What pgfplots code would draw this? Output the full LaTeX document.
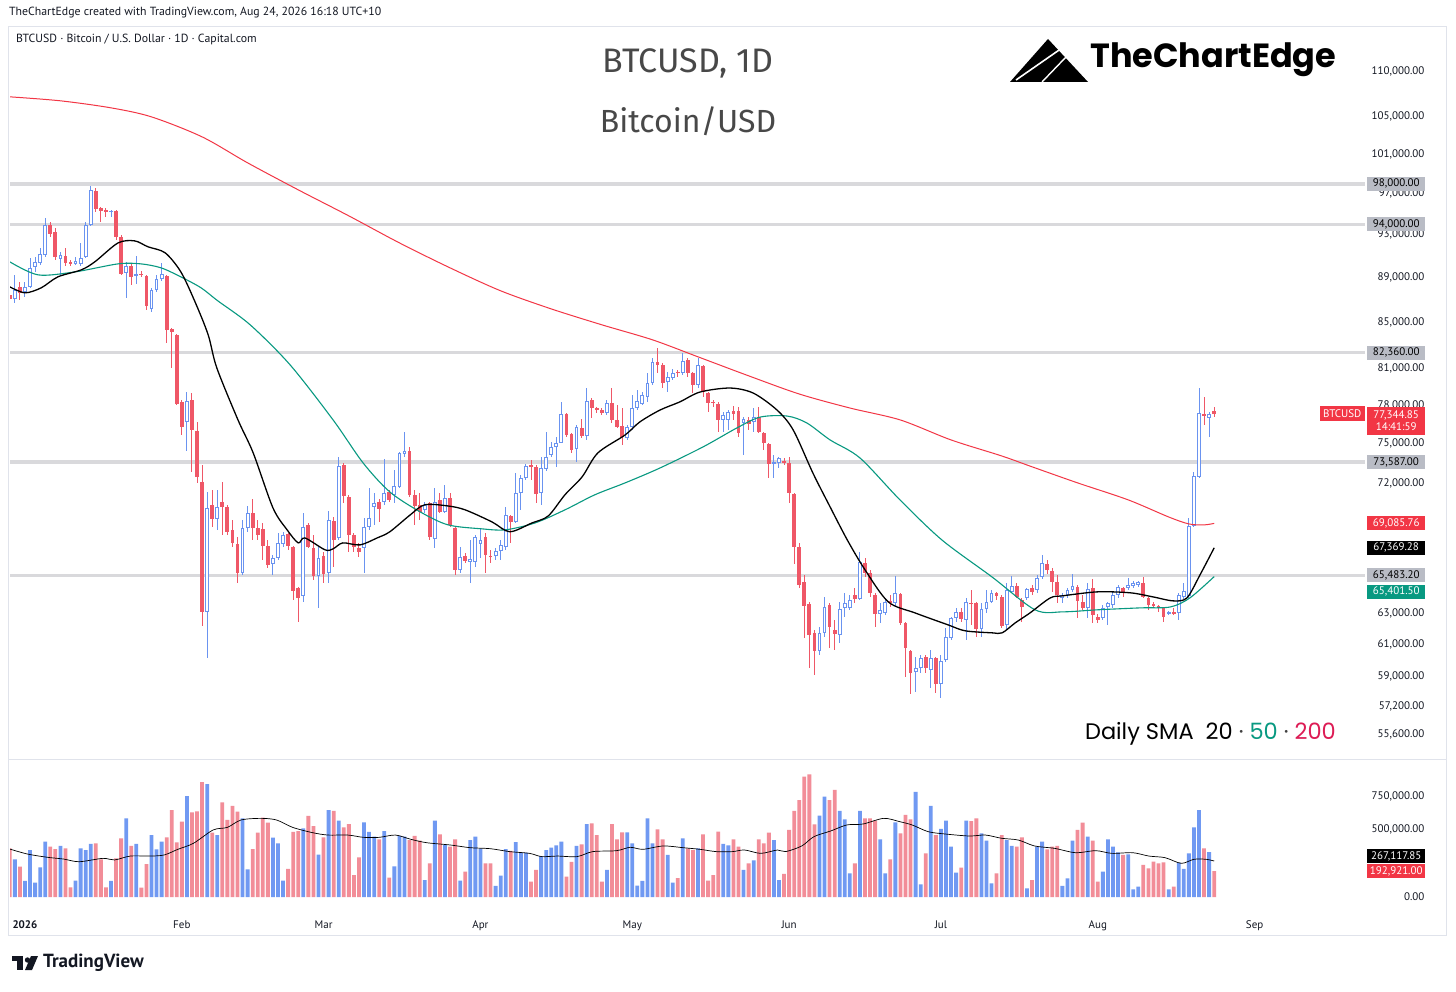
\documentclass[border=0pt]{standalone}
\usepackage{fontspec}
\setmainfont{PT Sans}
\newfontfamily\titlefont{Fira Sans}
\newfontfamily\poppins{Poppins}
\usepackage{pgfplots}
\pgfplotsset{compat=1.18}
\usepackage{pgfplotstable}

\definecolor{upc}{HTML}{6A93F0}
\definecolor{dnc}{HTML}{EF5767}
\definecolor{vup}{HTML}{7099F2}
\definecolor{vdn}{HTML}{F28D98}
\definecolor{tvred}{HTML}{F23645}
\definecolor{tvteal}{HTML}{089981}
\definecolor{smared}{HTML}{DD1C55}
\definecolor{lvl}{HTML}{D9D9DC}
\definecolor{lblgray}{HTML}{B9BCC5}
\definecolor{framec}{HTML}{E0E3EB}
\definecolor{txt}{HTML}{131722}
\definecolor{titlec}{HTML}{484848}

\newcommand{\tfont}{\fontsize{11}{13}\selectfont}

% up candles: day o h l c volume
\pgfplotstableread{
d o h l c v
-2 87055 89230 86700 87865 280000
0 87685 88590 87235 88140 119000
1 88140 90810 88050 89880 349000
2 89970 90900 89510 90440 106000
3 90340 91750 90160 91180 220000
4 91090 94630 90900 93950 411000
7 90720 91370 89230 91090 379000
10 90250 90900 90160 90530 121000
11 90250 92220 90060 90810 361000
12 90900 94240 90810 93950 349000
13 93950 97800 93850 97400 394000
17 95220 95410 94730 95310 119000
20 89420 90440 87150 90060 584000
22 89140 91000 88410 89330 394000
25 86160 88050 85900 87865 460000
26 87865 89230 87685 88870 354000
27 88870 90340 88680 89330 411000
32 76700 79100 74440 78380 750000
36 63070 71370 60150 70200 839000
38 69410 71510 68630 70270 460000
43 65650 69340 65520 68770 584000
44 68770 70340 68490 69840 205000
49 66270 66880 65520 66680 441000
50 66680 68420 66540 67710 399000
51 67640 68490 67430 68280 121000
55 64120 69840 63720 68840 510000
58 65450 67430 63330 66680 314000
60 65650 69980 64980 69340 646000
62 68060 73980 67920 73300 567000
67 67370 69480 65650 68840 554000
68 68840 71660 68630 69480 483000
69 70270 71290 68980 70560 448000
71 70630 73830 70420 71290 490000
73 71150 73000 70560 71810 228000
74 71730 74370 71660 74290 453000
75 74210 75910 73980 74440 448000
79 70050 70630 69840 70420 126000
81 67990 71660 67370 70630 567000
83 69910 71880 69840 70920 386000
86 65860 67430 65650 66740 121000
88 66400 67920 64980 66610 423000
89 66400 68280 66060 68130 448000
90 67640 68700 66680 67920 359000
93 66810 67370 66540 67160 82000
94 67160 67920 66540 67570 158000
95 67430 70270 67230 69690 356000
97 69190 72770 69120 71290 408000
98 71290 72630 70050 72400 329000
99 72400 73450 72250 73300 329000
102 71290 73980 70420 73150 304000
103 73080 75910 72920 73980 349000
104 74140 75140 73980 74750 366000
105 74750 75520 73230 75060 384000
106 75060 78300 75060 77330 411000
109 74600 76460 73600 76300 379000
111 75600 79430 75290 78380 542000
115 77410 78460 77250 78220 201000
119 75450 76460 75290 76300 480000
120 76300 78860 76070 77810 399000
121 77810 79270 77650 78380 84000
122 78140 79100 78060 78860 119000
123 78700 80670 78300 79840 584000
124 79840 81920 79680 81590 399000
127 79920 80750 79100 80340 312000
128 80250 81000 80090 80670 106000
130 80670 82350 80500 81670 436000
133 79680 81920 79430 81330 361000
138 76860 77490 75910 77250 394000
139 76860 77650 76070 77490 384000
142 76620 77090 74140 76940 201000
144 76700 77810 75910 77090 272000
148 73450 74140 72400 73600 423000
149 73530 73980 73150 73910 126000
157 60590 62100 60340 61720 604000
158 61720 64050 61470 63390 745000
161 61590 63720 61090 63260 639000
162 63330 64320 62750 63660 577000
163 63330 64180 63200 63850 176000
165 63920 67090 63850 66400 639000
169 62940 63660 62360 63200 428000
170 63000 63980 62870 63720 176000
172 63660 65450 63390 64320 554000
176 59290 60210 58080 59530 780000
177 59530 60340 59230 60150 94000
179 59410 60650 58320 60150 676000
181 58560 60340 57720 59970 505000
182 60030 62040 59900 61470 567000
183 61400 62750 61280 62680 374000
184 62680 63330 62420 63070 181000
186 62550 63980 61280 63720 567000
189 61970 63660 61470 63260 473000
190 63260 64510 63000 63720 418000
191 63720 64510 63660 64320 101000
194 62230 64980 61910 64510 423000
195 64380 65450 64320 64780 379000
198 63980 64650 63850 64580 64000
200 64510 65520 64320 65320 374000
201 65380 66880 65250 66330 411000
205 63980 64320 63660 64180 82000
206 64180 64650 63980 64510 139000
207 64510 65590 64380 64780 418000
210 63330 64980 62680 64580 448000
213 62680 63530 62550 63330 188000
214 63390 63720 62230 63660 428000
215 63530 64380 63330 64180 374000
216 64180 64850 63980 64710 332000
218 64650 65320 64510 64850 317000
219 64780 65110 64650 64980 57000
220 64850 65110 64710 65050 77000
226 62940 63130 62870 63070 57000
228 63000 64320 62550 64180 255000
229 64050 64980 63920 64450 208000
230 64120 69480 63980 68910 324000
231 68910 72850 68840 72550 517000
232 72480 79430 72400 77410 646000
234 77020 77490 75520 77330 334000
}\upT

% down candles: day o h l c volume
\pgfplotstableread{
d o h l c v
-3 87415 90340 86700 87055 361000
-1 88140 88590 86965 87595 225000
5 93950 94240 92800 93080 374000
6 93270 93660 90620 90900 356000
8 91000 91750 90060 90340 361000
9 90440 90620 90060 90250 72000
14 97300 97600 95220 95510 399000
15 95610 95710 94240 95310 280000
16 95410 95610 94730 95220 72000
18 95310 95410 92510 92800 287000
19 92800 92990 89230 89330 436000
21 90060 90340 88320 89050 379000
23 89330 89600 89050 89230 69000
24 89140 89230 86070 86430 245000
28 89140 89230 83200 84320 443000
29 84410 84490 81090 84150 646000
30 83890 83980 78060 78140 406000
31 78300 78460 75680 76300 559000
33 78460 79020 72850 76070 629000
34 75990 76700 72030 72480 636000
35 72100 73380 62170 63070 854000
37 70420 71510 68840 69410 478000
39 70630 72100 68280 70270 703000
40 70270 70420 68280 68490 572000
41 68630 69340 67430 67710 676000
42 67640 68130 64980 65650 634000
45 69840 70850 67920 68770 356000
46 68770 69340 67920 68280 478000
47 68700 69120 66540 67500 589000
48 67500 67920 65990 66200 552000
52 68350 68420 67230 67500 208000
53 67430 67500 63850 64450 483000
54 64650 64710 62420 63980 490000
56 68980 69120 67370 67430 602000
57 67370 68280 65180 65450 527000
59 66810 67090 64980 65590 443000
61 69260 69550 66060 67920 639000
63 73380 73530 70560 71070 517000
64 71000 71150 67090 68280 542000
65 68280 68420 67090 67430 163000
66 67370 67710 66740 67090 295000
70 70630 70850 69190 70130 428000
72 71370 71510 70630 70780 144000
76 74440 74750 71000 71150 423000
77 71150 71510 68980 70340 453000
78 70420 71290 69340 69910 418000
80 70560 70630 67920 68130 250000
82 70780 71290 69840 69910 465000
84 70920 71290 68840 68980 374000
85 68770 68840 65520 65860 428000
87 66810 67020 66330 66470 188000
91 68130 68420 65650 66880 250000
92 66810 67230 66330 66740 250000
96 69620 69690 67710 69190 342000
100 73380 73750 72250 73230 114000
101 73230 73380 70560 71220 201000
107 77330 77410 75520 75680 151000
108 75760 75830 74290 74520 260000
110 76230 76940 75450 75600 391000
112 78460 78620 77020 77810 547000
113 77810 77890 77410 77650 460000
114 77650 77810 77250 77410 114000
116 78220 79430 76620 76860 542000
117 76860 78060 76230 76300 428000
118 76380 77810 74900 75520 480000
125 81590 82770 80670 81330 503000
126 81330 81500 79430 79840 428000
129 80750 80920 80340 80670 141000
131 81750 81920 80340 80670 361000
132 80670 80750 79020 79680 349000
134 81250 81330 78700 79100 465000
135 79020 79100 77490 78220 121000
136 78300 78460 77890 78220 163000
137 78140 78300 75910 76860 485000
140 77570 77970 76860 77330 428000
141 77570 77890 75520 75830 374000
143 76860 77090 76070 76540 250000
145 77090 77890 75830 75910 428000
146 75830 75910 74520 75060 399000
147 74980 75060 72400 73450 478000
150 73680 73910 73380 73530 171000
151 73530 73980 70560 71290 498000
152 71220 71290 66270 67430 639000
153 67430 67710 64650 64850 720000
154 65050 65520 61400 63460 894000
155 63590 63720 59530 61590 911000
156 61720 61910 59110 60590 540000
159 63530 63660 60770 62100 720000
160 61910 62550 60650 61660 795000
164 64180 64650 63660 63920 250000
166 66330 66680 65380 65650 584000
167 65650 65860 64050 64320 584000
168 64180 64320 62100 62940 567000
171 63790 64180 63390 63660 280000
173 64250 64320 62230 62360 473000
174 62360 62420 58990 60770 609000
175 60590 60650 57960 59230 577000
178 60210 60340 59230 59530 324000
180 60150 60210 58020 58560 460000
185 63070 63330 62420 62620 218000
187 63660 64510 62230 63590 564000
188 63660 63720 61470 61970 584000
192 64320 64380 63850 64120 176000
193 64050 64180 62040 62170 460000
196 64780 64980 63980 64050 374000
197 63850 63980 62420 63390 443000
199 64650 64850 64180 64380 126000
202 66270 66540 65590 65860 354000
203 65790 65990 64380 65050 374000
204 65050 65520 63660 64180 379000
208 64710 64850 62680 63790 498000
209 63720 64180 63200 63330 552000
211 64650 65250 62360 62870 418000
212 62750 62940 62360 62550 114000
217 64650 64710 64050 64320 312000
221 64980 65380 63980 64050 238000
222 63980 64050 63200 63530 213000
223 63590 63720 63390 63460 262000
224 63460 63530 63070 63330 250000
225 63330 63330 62420 62750 257000
227 63070 63330 62870 62940 77000
233 77330 78700 76460 77170 361000
235 77570 77890 77090 77345 193000
}\dnT

\pgfplotstableread{
d p
-3 107190
7 106750
17 105980
25 105000
35 102860
44 100140
54 97400
64 94820
74 92220
84 89880
94 87780
104 86160
114 84760
124 83460
133 82010
143 80420
153 78940
163 77810
173 76860
183 75290
193 74060
199 73230
208 72030
218 70780
226 69550
230 69050
233 68980
235 69086
}\smaC

\pgfplotstableread{
d p
-3 90440
2.6 89230
9.9 89510
18.4 90250
22.9 90250
26.9 89880
30.8 89050
34.8 88050
38.1 86880
44.5 84760
52.4 81330
60.9 76860
66.8 73530
72.1 71370
78.1 69910
83.6 68980
90.3 68700
94.9 68630
100.8 69120
106.7 70050
112.6 71150
118.6 72030
125.5 73150
134 74750
140.7 76230
145.3 77090
150.6 77170
154.5 76620
159.1 75290
165 73910
172.9 70780
181.2 67920
191.1 65380
199.6 63200
205.1 63070
211.9 63200
220.4 63330
226.3 63390
230.2 63980
235 65401
}\smaB

\pgfplotstableread{
d p
-3 88140
0 87600
3.2 88050
6.5 89050
11.1 89690
13.8 90440
18.4 92220
21.7 92410
24.3 91850
27.7 91280
30.8 89510
33.6 86790
36.2 83890
37.9 81090
42.1 76860
45.1 74290
49 70200
51.8 68630
54 67710
55.3 68060
59.3 67230
60.9 67300
62.8 67710
66.2 67570
69.6 68060
72.1 68490
76.1 69690
79 70420
83.6 70340
87 70050
92.3 69190
95.8 68490
100.2 69120
103.4 69620
106.7 71150
110.1 72480
113.2 74290
118.6 75680
121.5 76700
125.5 77650
129.4 78300
133.4 79100
139.3 79430
143.9 79020
148.6 77650
151.8 76070
155.7 72770
159.1 70270
162.5 67920
166 65860
170.6 63720
175.9 63000
182.4 62230
185.8 61850
191.1 61720
193.1 61720
195.7 62360
198.6 63000
202.6 63980
205.1 64120
211.9 64380
218.4 64320
222.9 64050
226.9 63790
229.6 63980
232.2 65520
235 67369
}\smaA

\pgfplotstableread{
d v
-3 356000
0.5 319000
4.4 295000
7.6 282000
10.7 262000
15.4 287000
17.7 275000
20.8 304000
24.7 304000
27.5 312000
30.2 354000
33.3 399000
37.2 498000
40 517000
42.7 572000
46.6 584000
49.7 572000
52.9 517000
56.8 478000
59.9 460000
63.8 460000
66.9 443000
70 443000
73.2 460000
76.3 428000
79.4 403000
84.1 386000
88 366000
91.9 359000
95.8 337000
99.7 324000
102.1 300000
105.2 304000
109.1 300000
112.2 337000
116.9 344000
119.6 369000
122.1 354000
126.1 379000
130.1 366000
133.4 354000
136.6 337000
139.8 337000
142.2 349000
145.4 324000
148.7 349000
150.3 337000
153.5 379000
155.9 448000
159.2 490000
162.4 535000
165.6 542000
169.7 584000
172.9 559000
175.3 535000
178.5 485000
181.8 468000
186.6 453000
189.8 460000
193 436000
196.3 423000
199.5 379000
203.5 361000
207.6 329000
211.6 344000
214.8 324000
218.9 329000
222.1 304000
225.3 292000
228.5 250000
231 280000
233.4 280000
235 267118
}\vma

\tikzset{lbl/.style={anchor=west, minimum width=58pt, minimum height=14pt, inner sep=0pt, font=\tfont, xshift=2pt}}

\pgfplotsset{
  base/.style={
    scale only axis, width=1355pt, xmin=-2.96, xmax=264.8,
    axis line style={draw=none}, major tick length=0pt,
    clip mode=individual,
    yticklabel pos=right,
    yticklabel style={font=\tfont, text=txt, anchor=east, xshift=63pt},
  },
  nomark/.style={forget plot, only marks, mark=*, mark size=0pt,
    mark options={draw=none, fill=none, draw opacity=0, fill opacity=0}},
  wick/.style={nomark,
    error bars/y dir=both, error bars/y explicit, error bars/error mark=none,
    error bars/error bar style={line width=1pt, #1}},
  body/.style={nomark,
    error bars/y dir=both, error bars/y explicit, error bars/error mark=none,
    error bars/error bar style={line width=3.8pt, #1}},
}

\begin{document}
\begin{tikzpicture}
\fill[white] (0pt,0pt) rectangle (1456pt,991pt);

% price pane
\begin{axis}[base,
  at={(10pt,234pt)}, anchor=south west, height=730pt,
  ymode=log, ymin=54320, ymax=115200,
  xtick=\empty,
  ytick={110000,105000,101000,97000,93000,89000,85000,81000,78000,75000,72000,63000,61000,59000,57200,55600},
  yticklabels={{110,000.00},{105,000.00},{101,000.00},{97,000.00},{93,000.00},{89,000.00},{85,000.00},{81,000.00},{78,000.00},{75,000.00},{72,000.00},{63,000.00},{61,000.00},{59,000.00},{57,200.00},{55,600.00}},
]
% levels
\addplot[lvl, line width=3.5pt, forget plot] coordinates {(-3,98000) (264.8,98000)};
\addplot[lvl, line width=3.5pt, forget plot] coordinates {(-3,94000) (264.8,94000)};
\addplot[lvl, line width=3.5pt, forget plot] coordinates {(-3,82360) (264.8,82360)};
\addplot[lvl, line width=3.5pt, forget plot] coordinates {(-3,73587) (264.8,73587)};
\addplot[lvl, line width=3.5pt, forget plot] coordinates {(-3,65483) (264.8,65483)};

% wicks
\addplot[wick=dnc] table[x=d, y expr={(\thisrow{h}+\thisrow{l})/2},
  y error plus expr={(\thisrow{h}-\thisrow{l})/2}, y error minus expr={(\thisrow{h}-\thisrow{l})/2}] {\dnT};
\addplot[wick=upc] table[x=d, y expr={(\thisrow{h}+\thisrow{l})/2},
  y error plus expr={(\thisrow{h}-\thisrow{l})/2}, y error minus expr={(\thisrow{h}-\thisrow{l})/2}] {\upT};
% bodies
\addplot[body=dnc] table[x=d, y expr={(\thisrow{o}+\thisrow{c})/2},
  y error plus expr={max((\thisrow{o}-\thisrow{c})/2, 0.00055*\thisrow{o})},
  y error minus expr={max((\thisrow{o}-\thisrow{c})/2, 0.00055*\thisrow{o})}] {\dnT};
\addplot[body=upc] table[x=d, y expr={(\thisrow{o}+\thisrow{c})/2},
  y error plus expr={max((\thisrow{c}-\thisrow{o})/2, 0.00055*\thisrow{c})},
  y error minus expr={max((\thisrow{c}-\thisrow{o})/2, 0.00055*\thisrow{c})}] {\upT};
\addplot[nomark,
    error bars/y dir=both, error bars/y explicit, error bars/error mark=none,
    error bars/error bar style={line width=1.8pt, white}]
  table[x=d, y expr={(\thisrow{o}+\thisrow{c})/2},
  y error plus expr={max((\thisrow{c}-\thisrow{o})/2-0.0011*\thisrow{c}, 0)},
  y error minus expr={max((\thisrow{c}-\thisrow{o})/2-0.0011*\thisrow{c}, 0)}] {\upT};

% moving averages
\addplot[tvred, line width=1pt, smooth, forget plot] table[x=d, y=p] {\smaC};
\addplot[tvteal, line width=1.1pt, smooth, forget plot] table[x=d, y=p] {\smaB};
\addplot[black, line width=1.3pt, smooth, forget plot] table[x=d, y=p] {\smaA};

% right scale labels
\node[lbl, fill=lblgray, text=black] at (axis cs:264.8,98000) {98,000.00};
\node[lbl, fill=lblgray, text=black] at (axis cs:264.8,94000) {94,000.00};
\node[lbl, fill=lblgray, text=black] at (axis cs:264.8,82360) {82,360.00};
\node[lbl, fill=lblgray, text=black] at (axis cs:264.8,73587) {73,587.00};
\node[lbl, fill=tvred, text=white] at (axis cs:264.8,69086) {69,085.76};
\node[lbl, fill=black, text=white] at (axis cs:264.8,67369) {67,369.28};
\node[lbl, fill=lblgray, text=black] at (axis cs:264.8,65483) {65,483.20};
\node[lbl, fill=tvteal, text=white] at (axis cs:264.8,64380) {65,401.50};
\node[anchor=east, fill=tvred, text=white, minimum width=45pt, minimum height=15pt, inner sep=0pt, font=\tfont] at (axis cs:264.8,77345) {BTCUSD};
\node[anchor=north west, fill=tvred, text=white, minimum width=58pt, minimum height=28pt, inner sep=0pt, font=\tfont, align=center, xshift=2pt, yshift=7.5pt] at (axis cs:264.8,77345) {77,344.85\\[-1pt]14:41:59};
\end{axis}

% volume pane
\begin{axis}[base,
  at={(10pt,94pt)}, anchor=south west, height=138pt,
  ymin=0, ymax=1024800,
  scaled y ticks=false,
  xtick={0,31,59,90,120,151,181,212,243},
  xticklabels={\textbf{2026},Feb,Mar,Apr,May,Jun,Jul,Aug,Sep},
  xticklabel style={font=\tfont, text=txt, yshift=-20pt},
  ytick={0,500000,750000},
  yticklabels={0.00,{500,000.00},{750,000.00}},
]
\addplot[ybar, bar width=3.8pt, bar shift=0pt, fill=vup, draw=none, forget plot] table[x=d, y=v] {\upT};
\addplot[ybar, bar width=3.8pt, bar shift=0pt, fill=vdn, draw=none, forget plot] table[x=d, y=v] {\dnT};
\addplot[black, line width=0.7pt, smooth, forget plot] table[x=d, y=v] {\vma};
\node[lbl, fill=black, text=white] at (axis cs:264.8,304500) {267,117.85};
\node[lbl, fill=tvred, text=white] at (axis cs:264.8,193100) {192,921.00};
\end{axis}

% frame
\draw[framec, line width=0.8pt] (8pt,56pt) rectangle (1446pt,965pt);
\draw[framec, line width=0.8pt] (8pt,232pt) -- (1446pt,232pt);

% header texts
\node[anchor=west, font=\fontsize{11.8}{14}\selectfont, text=txt, inner sep=0pt] at (9pt,978pt) {TheChartEdge created with TradingView.com, Aug 24, 2026 16:18 UTC+10};
\node[anchor=west, font=\fontsize{11.8}{14}\selectfont, text=txt, inner sep=0pt] at (16pt,952pt) {BTCUSD · Bitcoin / U.S. Dollar · 1D · Capital.com};

% title
\node[font=\titlefont\fontsize{34}{38}\selectfont, text=titlec] at (688pt,928pt) {BTCUSD, 1D};
\node[font=\titlefont\fontsize{32}{38}\selectfont, text=titlec] at (688pt,870pt) {Bitcoin/USD};

% logo
\fill[black] (1010pt,909pt) -- (1048pt,952pt) -- (1088pt,909pt) -- cycle;
\draw[white, line width=1.6pt] (1016pt,911pt) -- (1062pt,943pt);
\draw[white, line width=1.4pt] (1042pt,909pt) -- (1066pt,934pt);
\node[anchor=west, font=\poppins\bfseries\fontsize{33.5}{36}\selectfont, inner sep=0pt] at (1090pt,931pt) {TheChartEdge};

% SMA legend
\node[anchor=east, font=\poppins\fontsize{22.5}{26}\selectfont, inner sep=0pt] at (1336pt,257pt) {Daily SMA\ \ 20 \textcolor{darkgray}{·} \textcolor{tvteal}{50} \textcolor{darkgray}{·} \textcolor{smared}{200}};

% TradingView logo
\fill[txt] (12pt,35pt) rectangle (23pt,30pt);
\fill[txt] (17pt,30pt) rectangle (23pt,21pt);
\fill[txt] (27.5pt,31pt) circle (2.7pt);
\fill[txt] (31pt,35pt) -- (38pt,35pt) -- (32pt,21pt) -- (25pt,21pt) -- cycle;
\node[anchor=west, font=\bfseries\fontsize{19}{22}\selectfont, text=txt, inner sep=0pt] at (43pt,28pt) {TradingView};

\pgfresetboundingbox
\path[use as bounding box] (0pt,0pt) rectangle (1456pt,991pt);
\end{tikzpicture}
\end{document}
